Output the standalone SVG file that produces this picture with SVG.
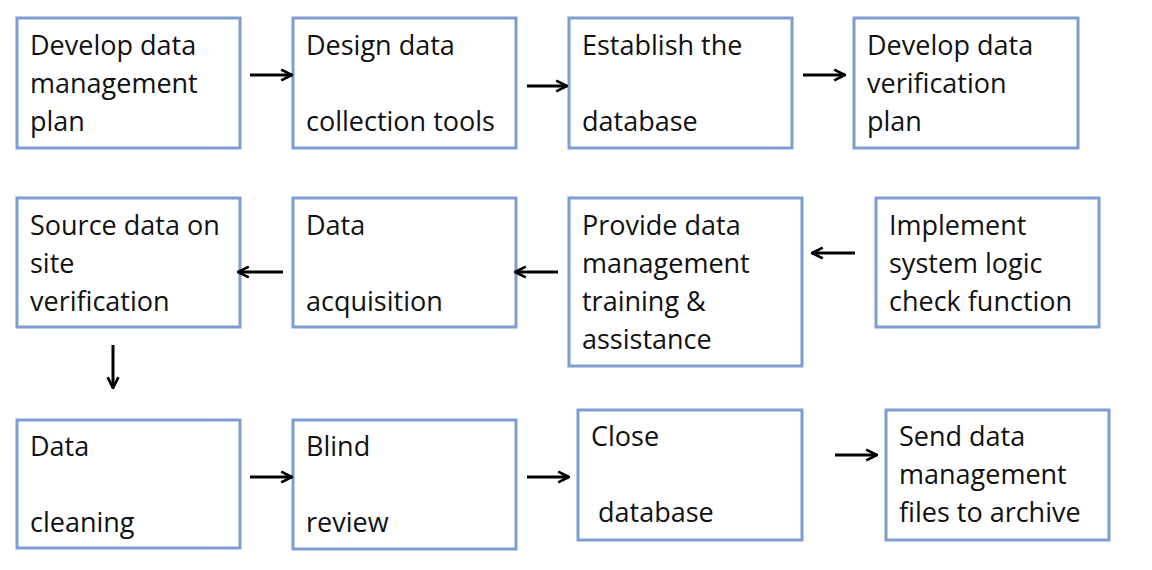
<svg xmlns="http://www.w3.org/2000/svg" width="1152" height="570" viewBox="0 0 1152 570">
<style>
rect{fill:#fff;stroke:#7f9dd1;stroke-width:3}
text{font-family:"Open Sans","Liberation Sans",sans-serif;font-size:27px;fill:#111}
.c line{stroke:#000;stroke-width:3}
</style>
<defs><marker id="a" viewBox="0 0 10 10" refX="9" refY="5" markerWidth="4.5" markerHeight="4.5" orient="auto"><path d="M1,1 L9,5 L1,9" fill="none" stroke="#000" stroke-width="2"/></marker></defs>
<rect x="0" y="0" width="1152" height="570" style="stroke:none"/>
<g id="n1"><rect x="17" y="18" width="223" height="130"/><text x="30" y="55">Develop data</text><text x="30" y="93">management</text><text x="30" y="131">plan</text></g>
<g id="n2"><rect x="293" y="18" width="223" height="130"/><text x="306" y="55">Design data</text><text x="306" y="131">collection tools</text></g>
<g id="n3"><rect x="569" y="18" width="223" height="130"/><text x="582" y="55">Establish the</text><text x="582" y="131">database</text></g>
<g id="n4"><rect x="854" y="18" width="224" height="130"/><text x="867" y="55">Develop data</text><text x="867" y="93">verification</text><text x="867" y="131">plan</text></g>
<g id="n5"><rect x="17" y="198" width="223" height="129"/><text x="30" y="235">Source data on</text><text x="30" y="273">site</text><text x="30" y="311">verification</text></g>
<g id="n6"><rect x="293" y="198" width="223" height="129"/><text x="306" y="235">Data</text><text x="306" y="311">acquisition</text></g>
<g id="n7"><rect x="569" y="198" width="233" height="168"/><text x="582" y="235">Provide data</text><text x="582" y="273">management</text><text x="582" y="311">training &amp;</text><text x="582" y="349">assistance</text></g>
<g id="n8"><rect x="876" y="198" width="223" height="129"/><text x="889" y="235">Implement</text><text x="889" y="273">system logic</text><text x="889" y="311">check function</text></g>
<g id="n9"><rect x="17" y="420" width="223" height="128"/><text x="30" y="456">Data</text><text x="30" y="532">cleaning</text></g>
<g id="n10"><rect x="293" y="420" width="223" height="129"/><text x="306" y="456">Blind</text><text x="306" y="532">review</text></g>
<g id="n11"><rect x="578" y="410" width="224" height="130"/><text x="591" y="446">Close</text><text x="598" y="522">database</text></g>
<g id="n12"><rect x="886" y="410" width="223" height="130"/><text x="899" y="446">Send data</text><text x="899" y="484">management</text><text x="899" y="522">files to archive</text></g>
<g class="c">
<line x1="250" y1="75" x2="292" y2="75" marker-end="url(#a)"/>
<line x1="527" y1="86" x2="567" y2="86" marker-end="url(#a)"/>
<line x1="803" y1="75" x2="845" y2="75" marker-end="url(#a)"/>
<line x1="283" y1="272" x2="238" y2="272" marker-end="url(#a)"/>
<line x1="558" y1="272" x2="515" y2="272" marker-end="url(#a)"/>
<line x1="855" y1="253" x2="812" y2="253" marker-end="url(#a)"/>
<line x1="113" y1="345" x2="113" y2="388" marker-end="url(#a)"/>
<line x1="250" y1="477" x2="292" y2="477" marker-end="url(#a)"/>
<line x1="527" y1="477" x2="569" y2="477" marker-end="url(#a)"/>
<line x1="835" y1="455" x2="877" y2="455" marker-end="url(#a)"/>
</g>
</svg>
